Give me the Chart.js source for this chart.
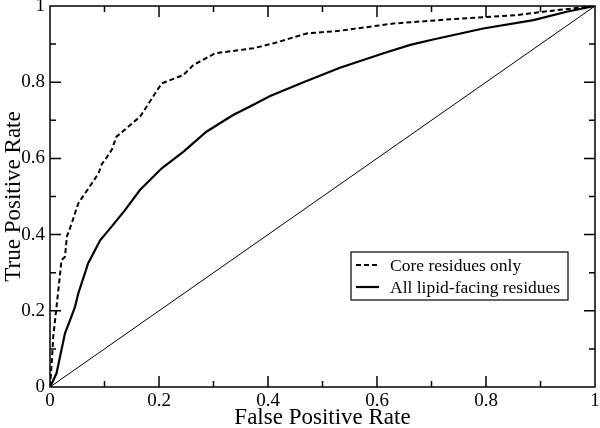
<!DOCTYPE html>
<html>
<head>
<meta charset="utf-8">
<script src="https://cdn.jsdelivr.net/npm/chart.js@4.4.0/dist/chart.umd.min.js"></script>
<style>
  html, body { margin: 0; padding: 0; background: #fff; }
  #wrap { width: 600px; height: 428px; }
</style>
</head>
<body>
<div id="wrap"><canvas id="roc"></canvas></div>
<script>
// ROC curves
var coreFpr = [0, 0.003, 0.006, 0.012, 0.018, 0.021, 0.0275, 0.031, 0.04, 0.049, 0.052, 0.058, 0.079, 0.089, 0.095, 0.101, 0.113, 0.122, 0.165, 0.205, 0.245, 0.263, 0.303, 0.373, 0.41, 0.471, 0.532, 0.63, 0.734, 0.856, 0.905, 1];
var coreTpr = [0, 0.06, 0.132, 0.211, 0.29, 0.333, 0.342, 0.395, 0.43, 0.47, 0.482, 0.495, 0.539, 0.561, 0.585, 0.596, 0.622, 0.657, 0.709, 0.797, 0.819, 0.845, 0.876, 0.889, 0.902, 0.928, 0.935, 0.954, 0.965, 0.976, 0.985, 1];

var allFpr = [0, 0.012, 0.017, 0.0275, 0.037, 0.046, 0.052, 0.061, 0.070, 0.083, 0.092, 0.113, 0.138, 0.165, 0.205, 0.245, 0.287, 0.336, 0.367, 0.404, 0.465, 0.532, 0.612, 0.661, 0.703, 0.795, 0.887, 0.948, 1];
var allTpr = [0, 0.036, 0.07, 0.141, 0.176, 0.211, 0.246, 0.285, 0.325, 0.36, 0.385, 0.421, 0.465, 0.517, 0.574, 0.618, 0.670, 0.714, 0.736, 0.764, 0.8, 0.838, 0.876, 0.898, 0.912, 0.941, 0.963, 0.985, 1];

var diagFpr = [0, 1];
var diagTpr = [0, 1];

var seriesLabels = ['Core residues only', 'All lipid-facing residues'];
var tickValues = [0, 0.2, 0.4, 0.6, 0.8, 1];
var tickLabels = ['0', '0.2', '0.4', '0.6', '0.8', '1'];

var serif = '"Liberation Serif", "Times New Roman", serif';

function pts(xs, ys) {
    return xs.map(function(x, i) { return {x: x, y: ys[i]}; });
}

function setTicks(s) {
    s.ticks = tickValues.map(function(v) { return {value: v}; });
}

function tickText(value, index) {
    return tickLabels[index];
}

// frame with inward ticks on all four sides
var frameTicks = {
    id: 'frameTicks',
    afterDatasetsDraw: function(chart) {
        var ctx = chart.ctx, a = chart.chartArea;
        var sx = chart.scales.x, sy = chart.scales.y;
        ctx.save();
        ctx.strokeStyle = '#000';
        ctx.lineWidth = 1.5;
        ctx.strokeRect(a.left, a.top, a.right - a.left, a.bottom - a.top);
        ctx.beginPath();
        for (var i = 1; i < 10; i++) {
            var v = i / 10;
            var len = (i % 2 == 0) ? 11 : 6;
            var px = sx.getPixelForValue(v);
            ctx.moveTo(px, a.bottom); ctx.lineTo(px, a.bottom - len);
            ctx.moveTo(px, a.top); ctx.lineTo(px, a.top + len);
            var py = sy.getPixelForValue(v);
            ctx.moveTo(a.left, py); ctx.lineTo(a.left + len, py);
            ctx.moveTo(a.right, py); ctx.lineTo(a.right - len, py);
        }
        ctx.stroke();
        ctx.restore();
    }
};

// boxed legend inside the plot
var boxLegend = {
    id: 'boxLegend',
    afterDraw: function(chart) {
        var ctx = chart.ctx;
        var bx = 351, by = 252, bw = 217, bh = 48;
        ctx.save();
        ctx.fillStyle = '#fff';
        ctx.fillRect(bx, by, bw, bh);
        ctx.strokeStyle = '#000';
        ctx.lineWidth = 1.2;
        ctx.strokeRect(bx, by, bw, bh);
        ctx.font = '17.5px ' + serif;
        ctx.textBaseline = 'middle';
        ctx.fillStyle = '#000';
        for (var i = 0; i < 2; i++) {
            var ds = chart.data.datasets[i];
            var y = by + 13 + i * 22;
            ctx.beginPath();
            ctx.lineWidth = ds.borderWidth;
            ctx.setLineDash(ds.borderDash || []);
            ctx.moveTo(bx + 5, y); ctx.lineTo(bx + 28, y);
            ctx.stroke();
            ctx.setLineDash([]);
            ctx.fillText(ds.label, bx + 39, y + 1);
        }
        ctx.restore();
    }
};

var ctx = document.getElementById('roc').getContext('2d');
var chart = new Chart(ctx, {
    type: 'line',
    data: {
        datasets: [{
            label: seriesLabels[0],
            data: pts(coreFpr, coreTpr),
            borderColor: '#000',
            borderWidth: 2,
            borderDash: [5, 3],
            pointRadius: 0,
            tension: 0
        }, {
            label: seriesLabels[1],
            data: pts(allFpr, allTpr),
            borderColor: '#000',
            borderWidth: 2.2,
            pointRadius: 0,
            tension: 0
        }, {
            label: 'diagonal',
            data: pts(diagFpr, diagTpr),
            borderColor: '#000',
            borderWidth: 1,
            pointRadius: 0,
            tension: 0
        }]
    },
    options: {
        responsive: true,
        maintainAspectRatio: false,
        animation: false,
        layout: { padding: { top: 6, right: 5, left: 0, bottom: 0 } },
        plugins: {
            legend: { display: false },
            tooltip: { enabled: false }
        },
        scales: {
            x: {
                type: 'linear',
                min: 0, max: 1,
                grid: { display: false, drawTicks: false },
                border: { display: false },
                afterBuildTicks: setTicks,
                afterFit: function(s) { s.height = 41; s.paddingLeft = 0; s.paddingRight = 0; },
                ticks: {
                    color: '#000',
                    padding: 3,
                    maxRotation: 0,
                    callback: tickText,
                    font: { family: serif, size: 19 }
                },
                title: {
                    display: true,
                    text: 'False Positive Rate',
                    color: '#000',
                    padding: { top: 0, bottom: -4 },
                    font: { family: serif, size: 23 }
                }
            },
            y: {
                type: 'linear',
                min: 0, max: 1,
                grid: { display: false, drawTicks: false },
                border: { display: false },
                afterBuildTicks: setTicks,
                afterFit: function(s) { s.width = 50; s.paddingTop = 0; s.paddingBottom = 0; },
                ticks: {
                    color: '#000',
                    padding: 5,
                    callback: tickText,
                    font: { family: serif, size: 19 }
                },
                title: {
                    display: true,
                    text: 'True Positive Rate',
                    color: '#000',
                    padding: { top: 0, bottom: 0 },
                    font: { family: serif, size: 23 }
                }
            }
        }
    },
    plugins: [frameTicks, boxLegend]
});
</script>
</body>
</html>
